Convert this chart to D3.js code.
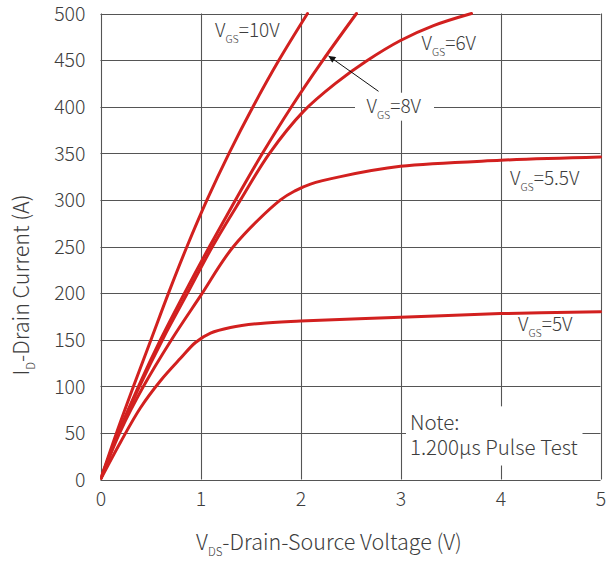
<!DOCTYPE html>
<html>
<head>
<meta charset="utf-8">
<script src="https://cdn.jsdelivr.net/npm/d3@7"></script>
<style>
  html, body { margin: 0; padding: 0; background: #fff; }
  svg { display: block; }
  text { font-family: "Noto Sans CJK SC", "Source Han Sans SC", "Noto Sans", sans-serif; font-weight: 300; fill: #3d3d3d; }
</style>
</head>
<body>
<svg id="chart" width="606" height="565"></svg>
<script>
// Output characteristics: drain current vs drain-source voltage, one curve per gate voltage.
// Each point is [V_DS (V), I_D (A)].
const vgs10 = [[0,0],[0.16,50],[0.33,100],[0.505,150],[0.68,200],[0.865,250],[1.065,300],[1.285,350],[1.525,400],[1.785,450],[2.07,500]];
const vgs8  = [[0,0],[0.18,50],[0.38,100],[0.6,150],[0.84,200],[1.09,250],[1.35,300],[1.62,350],[1.91,400],[2.225,450],[2.56,500]];
const vgs6  = [[0,0],[0.18,50],[0.39,100],[0.62,150],[0.87,200],[1.12,250],[1.4,300],[1.69,350],[2.03,395],[2.35,425],[2.66,449],[3.0,471],[3.33,487],[3.71,500]];
const vgs55 = [[0,0],[0.2,52],[0.43,100],[0.71,150],[1.0,197],[1.33,250],[1.8,300],[1.95,310],[2.1,317],[2.4,325],[3,336],[4,342.5],[5,346]];
const vgs5  = [[0,0],[0.2,40],[0.4,77],[0.6,106],[0.8,130],[0.95,147],[1.1,157],[1.3,163],[1.6,167.5],[2,170],[3,174],[4,178],[5,180]];

const seriesList = [vgs10, vgs8, vgs6, vgs55, vgs5];

const xTicks = [0, 1, 2, 3, 4, 5];
const yTicks = [0, 50, 100, 150, 200, 250, 300, 350, 400, 450, 500];

// Curve annotations: [main, subscript, rest, V_DS, I_D] (text anchored at the given data point)
const curveLabels = [
  ["V", "GS", "=10V", 1.145, 475],
  ["V", "GS", "=6V", 3.21, 460.5],
  ["V", "GS", "=5.5V", 4.095, 316],
  ["V", "GS", "=5V", 4.175, 159],
];
const label8 = ["V", "GS", "=8V", 2.66, 393.5];
const arrow8 = [[2.78, 416.5], [2.28, 454.5]];
const noteLines = ["Note:", "1.200μs Pulse Test"];

const svg = d3.select("#chart");
const margin = { left: 100.5, right: 5.5, top: 13.5, bottom: 85.5 };
const W = 606, H = 565;

const x = d3.scaleLinear().domain([0, 5]).range([margin.left, W - margin.right]);
const y = d3.scaleLinear().domain([0, 500]).range([H - margin.bottom, margin.top]);

const gridColor = "#555";

// Grid
const grid = svg.append("g");
grid.selectAll("line.h").data(yTicks).join("line")
  .attr("x1", x(0)).attr("x2", x(5))
  .attr("y1", d => Math.round(y(d)) + 0.5).attr("y2", d => Math.round(y(d)) + 0.5)
  .attr("stroke", gridColor).attr("stroke-width", 1.1);
grid.selectAll("line.v").data(xTicks).join("line")
  .attr("y1", y(0)).attr("y2", y(500))
  .attr("x1", d => Math.round(x(d)) + 0.5).attr("x2", d => Math.round(x(d)) + 0.5)
  .attr("stroke", gridColor).attr("stroke-width", 1.1);

// Axes (labels only; the grid forms the frame)
const yAxis = d3.axisLeft(y).tickValues(yTicks).tickFormat(d3.format("d")).tickSize(0).tickPadding(15);
const xAxis = d3.axisBottom(x).tickValues(xTicks).tickFormat(d3.format("d")).tickSize(0).tickPadding(13);

const gy = svg.append("g").attr("transform", `translate(${x(0)},0.5)`).call(yAxis);
const gx = svg.append("g").attr("transform", `translate(0,${y(0)})`).call(xAxis);
[gx, gy].forEach(g => {
  g.select(".domain").remove();
  g.attr("font-family", null).attr("font-size", null);
  g.selectAll("text").attr("font-size", 19.5).attr("fill", "#3d3d3d");
});

// Label boxes that break the grid
svg.append("rect").attr("x", x(3.055)).attr("y", y(78.5)).attr("width", x(4.82) - x(3.055)).attr("height", y(15) - y(78.5)).attr("fill", "#fff");
svg.append("rect").attr("x", x(2.545)).attr("y", y(415)).attr("width", x(3.335) - x(2.545)).attr("height", y(385) - y(415)).attr("fill", "#fff");

// Curves
svg.append("clipPath").attr("id", "plotClip").append("rect")
  .attr("x", x(0)).attr("y", y(500) - 2).attr("width", x(5) - x(0) + 2).attr("height", y(0) - y(500) + 2);

const line = d3.line().x(d => x(d[0])).y(d => y(d[1])).curve(d3.curveCatmullRom.alpha(0.5));
svg.append("g").attr("clip-path", "url(#plotClip)")
  .selectAll("path").data(seriesList).join("path")
  .attr("d", line)
  .attr("fill", "none")
  .attr("stroke", "#d2201f")
  .attr("stroke-width", 3)
  .attr("stroke-linejoin", "round")
  .attr("stroke-linecap", "round");

// Curve labels with subscripts
function subLabel(parent, parts, size) {
  const t = parent.append("text").attr("x", x(parts[3])).attr("y", y(parts[4])).attr("font-size", size);
  t.append("tspan").text(parts[0]);
  t.append("tspan").attr("font-size", size * 0.56).attr("dy", 6).text(parts[1]);
  t.append("tspan").attr("dy", -6).text(parts[2]);
  return t;
}
curveLabels.forEach(l => subLabel(svg, l, 19));
subLabel(svg, label8, 19);

// Arrow pointing to the 8 V curve
svg.append("defs").append("marker")
  .attr("id", "arrowHead").attr("viewBox", "0 0 10 10").attr("refX", 10).attr("refY", 5)
  .attr("markerWidth", 9).attr("markerHeight", 7).attr("markerUnits", "userSpaceOnUse").attr("orient", "auto")
  .append("path").attr("d", "M0,0 L10,5 L0,10 Z").attr("fill", "#111");
svg.append("line")
  .attr("x1", x(arrow8[0][0])).attr("y1", y(arrow8[0][1]))
  .attr("x2", x(arrow8[1][0])).attr("y2", y(arrow8[1][1]))
  .attr("stroke", "#111").attr("stroke-width", 1)
  .attr("marker-end", "url(#arrowHead)");

// Note
const note = svg.append("text").attr("font-size", 20.5);
noteLines.forEach((s, i) => note.append("tspan").attr("x", x(3.095)).attr("y", y(53.5) + i * 25).text(s));

// Axis titles
const xt = svg.append("text").attr("x", 329).attr("y", 550).attr("text-anchor", "middle").attr("font-size", 21.5);
xt.append("tspan").text("V");
xt.append("tspan").attr("font-size", 11.5).attr("dy", 6).text("DS");
xt.append("tspan").attr("dy", -6).text("-Drain-Source Voltage (V)");

const yt = svg.append("text").attr("transform", "translate(29,285) rotate(-90)").attr("text-anchor", "middle").attr("font-size", 21.5);
yt.append("tspan").text("I");
yt.append("tspan").attr("font-size", 11.5).attr("dy", 6).text("D");
yt.append("tspan").attr("dy", -6).text("-Drain Current (A)");
</script>
</body>
</html>
